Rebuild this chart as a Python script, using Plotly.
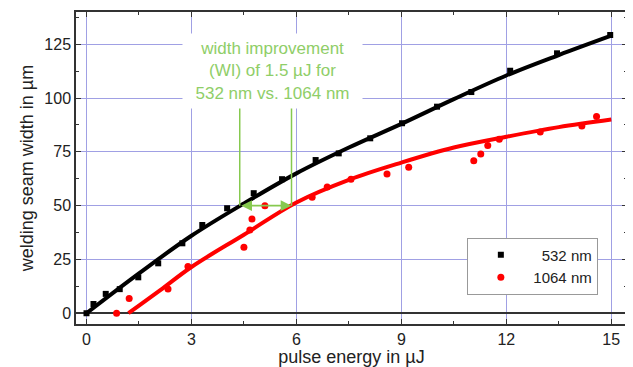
import plotly.graph_objects as go

# ---- data ----
x_532 = [0, 0.2, 0.55, 0.95, 1.48, 2.05, 2.74, 3.31, 4.02, 4.78, 5.59, 6.55, 7.21, 8.11, 9.02, 10.02, 11.0, 12.11, 13.45, 14.97]
y_532 = [0, 4.3, 9.0, 11.2, 16.7, 23.2, 32.5, 41.0, 48.8, 55.8, 62.3, 71.2, 74.3, 81.3, 88.3, 96.0, 102.8, 112.7, 120.8, 129.3]

x_1064 = [0.86, 1.22, 2.33, 2.9, 4.5, 4.67, 4.73, 5.1, 6.45, 6.88, 7.56, 8.59, 9.21, 11.07, 11.27, 11.47, 11.8, 12.97, 14.16, 14.58]
y_1064 = [0, 6.8, 11.3, 21.7, 30.7, 38.7, 43.8, 50.0, 53.9, 58.7, 62.3, 64.7, 67.8, 70.9, 74.0, 77.9, 80.9, 84.2, 87.0, 91.4]

fit_x_532 = [0, 1.5, 3, 4.5, 6, 7.5, 9, 10.5, 12, 13.5, 15]
fit_y_532 = [0, 18.5, 36, 51, 65, 77, 88, 99.5, 110.5, 120, 129]

fit_x_1064 = [1.2, 2.1, 3, 4.5, 6, 7.5, 9, 10.5, 12, 13.5, 15]
fit_y_1064 = [0, 10.6, 21.5, 36.5, 51.5, 62, 70, 77, 82, 86.5, 90]

x_ticks = [0, 3, 6, 9, 12, 15]
y_ticks = [0, 25, 50, 75, 100, 125]
series_names = ["\u2007532 nm", "1064 nm"]

wi_left, wi_right, wi_level, wi_top = 4.38, 5.86, 50, 95.5
wi_text = "width improvement<br>(WI) of 1.5 µJ for<br>532 nm vs. 1064 nm"

GREEN = "#86c94f"
TEXT_GREEN = "#8fce68"
GRID = "#a0a0e4"
AX = "#333333"
FONT = "Liberation Sans, Arial, sans-serif"

fig = go.Figure()

fig.add_trace(go.Scatter(x=fit_x_532, y=fit_y_532, mode="lines", line=dict(color="black", width=4, shape="spline"),
                         showlegend=False, hoverinfo="skip"))
fig.add_trace(go.Scatter(x=fit_x_1064, y=fit_y_1064, mode="lines", line=dict(color="#ff0000", width=4, shape="spline"),
                         showlegend=False, hoverinfo="skip"))
fig.add_trace(go.Scatter(x=x_532, y=y_532, mode="markers", name=series_names[0],
                         marker=dict(symbol="square", color="black", size=6)))
fig.add_trace(go.Scatter(x=x_1064, y=y_1064, mode="markers", name=series_names[1],
                         marker=dict(symbol="circle", color="#ff0000", size=7)))

# green WI markers
for xv in (wi_left, wi_right):
    fig.add_shape(type="line", x0=xv, x1=xv, y0=wi_level, y1=wi_top, xref="x", yref="y",
                  line=dict(color=GREEN, width=1.5))
fig.add_annotation(x=wi_right, y=wi_level, ax=wi_left, ay=wi_level, xref="x", yref="y", axref="x", ayref="y",
                   text="", showarrow=True, arrowside="end+start", arrowhead=2, arrowsize=1.2,
                   arrowwidth=1.8, arrowcolor=GREEN)
fig.add_annotation(x=5.33, y=112.6, xref="x", yref="y", xanchor="center", yanchor="middle",
                   width=179, height=74, borderpad=0, valign="middle",
                   text=wi_text, showarrow=False, font=dict(family=FONT, size=17, color=TEXT_GREEN),
                   bgcolor="white", align="center")

axis_common = dict(
    showline=True, linecolor=AX, linewidth=1.5, mirror="ticks",
    ticks="inside", ticklen=5, tickwidth=1, tickcolor=AX,
    showgrid=True, gridcolor=GRID, gridwidth=1, automargin=False,
    tickfont=dict(family=FONT, size=16, color="#222222"),
    title_font=dict(family=FONT, size=18, color="#222222"),
)

fig.update_xaxes(range=[-0.3, 15.45], tickvals=x_ticks, zeroline=False,
                 minor=dict(ticks="inside", ticklen=3, dtick=1.5, tick0=0, tickcolor=AX, showgrid=False),
                 title_text="pulse energy in µJ", title_standoff=1, **axis_common)
fig.update_yaxes(range=[-5, 140], tickvals=y_ticks, zeroline=True, zerolinecolor=AX, zerolinewidth=1.5,
                 minor=dict(ticks="inside", ticklen=3, dtick=12.5, tick0=0, tickcolor=AX, showgrid=False),
                 title_text="welding seam width in µm", title_standoff=6, **axis_common)

# the page body adds an 8 px offset, so the figure is 8 px smaller than the window
fig.update_layout(
    width=625, height=359,
    margin=dict(l=68, r=6, t=4, b=43),
    paper_bgcolor="white", plot_bgcolor="white",
    font=dict(family=FONT, color="#222222"),
    legend=dict(x=0.948, y=0.277, xanchor="right", yanchor="top",
                bordercolor="#999999", borderwidth=1, bgcolor="white",
                font=dict(family=FONT, size=15, color="#222222"),
                tracegroupgap=0, itemwidth=55, entrywidth=100, entrywidthmode="pixels"),
)

fig.write_html("out.html")
